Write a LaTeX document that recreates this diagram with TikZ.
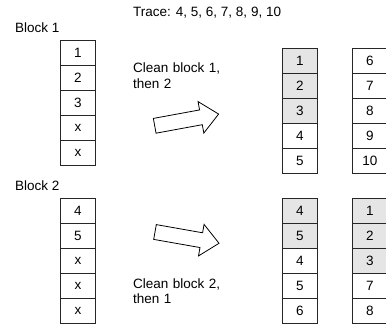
\documentclass[tikz,border=0pt]{standalone}
\usepackage{fontspec}
\setmainfont{Liberation Sans}
\begin{document}
\begin{tikzpicture}[x=1pt,y=-1pt,
  cell/.style={draw=black!85,line width=0.9pt,minimum width=35pt,minimum height=25pt,
    inner sep=0pt,font=\fontsize{13.5}{15}\selectfont,anchor=north west},
  used/.style={cell,fill=black!10},
  lbl/.style={font=\fontsize{13.5}{15.5}\selectfont,anchor=base west,inner sep=0pt,align=left},
  bigarrow/.style={draw=black,line width=0.8pt,fill=white,line join=miter}]
\useasboundingbox (0,0) rectangle (386,326);
\clip (0,0) rectangle (386,326);

% titles
\node[lbl] (trace) at (133,17) {Trace: 4, 5, 6, 7, 8, 9, 10};
\node[lbl] (b1) at (15,33) {Block 1};
\node[lbl] (b2) at (15,190.5) {Block 2};
\node[lbl,text width=120pt] (c1) at (133,73) {Clean block 1,\\then 2};
\node[lbl,text width=120pt] (c2) at (133,288) {Clean block 2,\\then 1};

% block 1 before cleaning
\foreach \t [count=\i from 0] in {1,2,3,x,x}
  \node[cell] (a\i) at (60,40+25*\i) {\t};
% block 2 before cleaning
\foreach \t [count=\i from 0] in {4,5,x,x,x}
  \node[cell] (b\i) at (60,198+25*\i) {\t};

% after cleaning block 1, then 2
\foreach \t/\s [count=\i from 0] in {1/used,2/used,3/used,4/cell,5/cell}
  \node[\s] (p\i) at (282,48+25*\i) {\t};
\foreach \t [count=\i from 0] in {6,7,8,9,10}
  \node[cell] (q\i) at (352,48+25*\i) {\t};

% after cleaning block 2, then 1
\foreach \t/\s [count=\i from 0] in {4/used,5/used,4/cell,5/cell,6/cell}
  \node[\s] (r\i) at (282,198+25*\i) {\t};
\foreach \t/\s [count=\i from 0] in {1/used,2/used,3/used,7/cell,8/cell}
  \node[\s] (s\i) at (352,198+25*\i) {\t};

% hollow block arrows (y axis points down, so angles are mirrored)
\coordinate (t1) at (154.7,125.8);
\coordinate (t2) at (155,232);
\draw[bigarrow,shift={(t1)},rotate=10.4]
  (0,-7.5) -- (47,-7.5) -- (47,-16) -- (65,0) -- (47,16) -- (47,7.5) -- (0,7.5) -- cycle;
\draw[bigarrow,shift={(t2)},rotate=-10]
  (0,-7.5) -- (47,-7.5) -- (47,-16) -- (65,0) -- (47,16) -- (47,7.5) -- (0,7.5) -- cycle;
\end{tikzpicture}
\end{document}
